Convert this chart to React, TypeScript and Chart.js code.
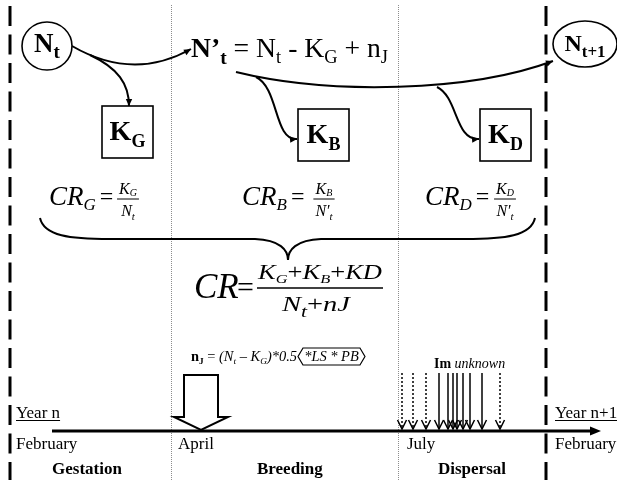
import React, { useEffect, useRef } from "react";
import { Chart, registerables } from "chart.js";

Chart.register(...registerables);

const SERIF = '"Liberation Serif", "Times New Roman", serif';

// ---------- diagram content (diagram units: x 0..617, y 0..480 from top) ----------
const boundaryX = [10, 171, 398, 546];
const boundaryKind = ["dashed", "dotted", "dotted", "dashed"];
const monthLabels = ["February", "April", "July", "February"];
const monthLabelX = [16, 178, 407, 555];
const seasonLabels = ["Gestation", "Breeding", "Dispersal"];
const seasonLabelX = [52, 257, 438];
const yearLabels = ["Year n", "Year n+1"];
const yearLabelX = [16, 555];
const lossSubscripts = ["G", "B", "D"];
const lossBoxX = [102, 298, 480];
const lossBoxY = [106, 109, 109];
const rateLabelX = [49, 242, 425];
const rateFracX = [128, 324, 505];
const rateDenomPrime = [false, true, true];
const immigrantX = [402, 413, 426, 439, 448, 453, 457, 463, 470, 482, 500];
const immigrantDotted = [true, true, true, false, false, false, false, false, false, false, true];

type Seg = { t: string; s: number; f?: string; dy?: number };

function fnt(sg: Seg) {
  const f = sg.f || "";
  return `${f.includes("i") ? "italic " : ""}${f.includes("b") ? "bold " : ""}${sg.s}px ${SERIF}`;
}

function richWidth(ctx: CanvasRenderingContext2D, segs: Seg[]) {
  let total = 0;
  segs.forEach((sg) => {
    ctx.font = fnt(sg);
    total += ctx.measureText(sg.t).width;
  });
  return total;
}

function drawRich(
  ctx: CanvasRenderingContext2D,
  segs: Seg[],
  x: number,
  y: number,
  align: "left" | "center" | "right" = "left",
  target = 0
) {
  const natural = richWidth(ctx, segs);
  const sx = target > 0 ? target / natural : 1;
  const total = natural * sx;
  const start = align === "center" ? x - total / 2 : align === "right" ? x - total : x;
  ctx.save();
  ctx.translate(start, y);
  ctx.scale(sx, 1);
  ctx.textAlign = "left";
  ctx.textBaseline = "alphabetic";
  ctx.fillStyle = "#000";
  let cx = 0;
  segs.forEach((sg) => {
    ctx.font = fnt(sg);
    ctx.fillText(sg.t, cx, sg.dy || 0);
    cx += ctx.measureText(sg.t).width;
  });
  ctx.restore();
  return total;
}

function arrowHead(ctx: CanvasRenderingContext2D, tx: number, ty: number, ang: number, len = 7, half = 3.2) {
  ctx.save();
  ctx.setLineDash([]);
  ctx.beginPath();
  ctx.moveTo(tx, ty);
  ctx.lineTo(tx - len * Math.cos(ang) + half * Math.sin(ang), ty - len * Math.sin(ang) - half * Math.cos(ang));
  ctx.lineTo(tx - len * Math.cos(ang) - half * Math.sin(ang), ty - len * Math.sin(ang) + half * Math.cos(ang));
  ctx.closePath();
  ctx.fillStyle = "#000";
  ctx.fill();
  ctx.restore();
}

const diagramPlugin = {
  id: "diagram",
  beforeDraw(chart: any) {
    const ctx = chart.ctx as CanvasRenderingContext2D;
    ctx.save();
    ctx.fillStyle = "#fff";
    ctx.fillRect(0, 0, chart.width, chart.height);
    ctx.restore();
  },
  afterDraw(chart: any) {
    const ctx = chart.ctx as CanvasRenderingContext2D;
    const xs = chart.scales.x;
    const ys = chart.scales.y;
    const X = (v: number) => xs.getPixelForValue(v);
    const Y = (v: number) => ys.getPixelForValue(v);
    ctx.save();
    ctx.strokeStyle = "#000";
    ctx.fillStyle = "#000";
    ctx.lineCap = "butt";

    // season boundaries
    boundaryX.forEach((bx, i) => {
      ctx.beginPath();
      if (boundaryKind[i] === "dashed") {
        ctx.lineWidth = 3;
        ctx.strokeStyle = "#000";
        ctx.setLineDash([20, 8.5]);
        ctx.moveTo(X(bx), Y(6));
        ctx.lineTo(X(bx), Y(480));
      } else {
        ctx.lineWidth = 1;
        ctx.strokeStyle = "#8c8c8c";
        ctx.setLineDash([1, 1]);
        ctx.moveTo(X(bx) + 0.5, Y(5));
        ctx.lineTo(X(bx) + 0.5, Y(480));
      }
      ctx.stroke();
    });
    ctx.setLineDash([]);
    ctx.strokeStyle = "#000";

    // population nodes
    ctx.lineWidth = 1.6;
    ctx.beginPath();
    ctx.ellipse(X(47), Y(46), 25, 24, 0, 0, Math.PI * 2);
    ctx.fillStyle = "#fff";
    ctx.fill();
    ctx.stroke();
    drawRich(ctx, [{ t: "N", s: 27, f: "b" }, { t: "t", s: 19, f: "b", dy: 6 }], X(47), Y(52), "center");

    ctx.beginPath();
    ctx.ellipse(X(585), Y(44), 32, 23, 0, 0, Math.PI * 2);
    ctx.fillStyle = "#fff";
    ctx.fill();
    ctx.stroke();
    drawRich(ctx, [{ t: "N", s: 24, f: "b" }, { t: "t+1", s: 17, f: "b", dy: 6 }], X(585), Y(51), "center");

    // N't formula
    drawRich(
      ctx,
      [
        { t: "N\u2019", s: 27, f: "b" },
        { t: "t", s: 19, f: "b", dy: 7 },
        { t: " = N", s: 27 },
        { t: "t", s: 18, dy: 6 },
        { t: " - K", s: 27 },
        { t: "G", s: 18, dy: 6 },
        { t: " + n", s: 27 },
        { t: "J", s: 18, dy: 6 },
      ],
      X(191),
      Y(57),
      "left",
      197
    );

    // flow curves
    ctx.lineWidth = 2;
    const bez = (p: number[], head = true) => {
      ctx.beginPath();
      ctx.moveTo(X(p[0]), Y(p[1]));
      ctx.bezierCurveTo(X(p[2]), Y(p[3]), X(p[4]), Y(p[5]), X(p[6]), Y(p[7]));
      ctx.stroke();
      if (head) {
        const ang = Math.atan2(Y(p[7]) - Y(p[5]), X(p[6]) - X(p[4]));
        arrowHead(ctx, X(p[6]), Y(p[7]), ang);
      }
    };
    bez([72, 46, 110, 68, 150, 72, 191, 49]);
    bez([90, 55, 118, 68, 129, 84, 129, 106]);
    bez([236, 72, 330, 95, 470, 92, 553, 61]);
    bez([256, 77, 279, 88, 274, 141, 297, 139]);
    bez([437, 87, 458, 97, 455, 141, 479, 139]);

    // loss boxes
    lossBoxX.forEach((bx, i) => {
      ctx.lineWidth = 1.6;
      ctx.strokeRect(X(bx), Y(lossBoxY[i]), 51, 52);
      drawRich(
        ctx,
        [{ t: "K", s: 28, f: "b" }, { t: lossSubscripts[i], s: 18, f: "b", dy: 7 }],
        X(bx + 25.5),
        Y(lossBoxY[i] + 34),
        "center"
      );
    });

    // partial capture rates
    lossSubscripts.forEach((sub, i) => {
      const lw = drawRich(ctx, [{ t: "CR", s: 27, f: "i" }, { t: sub, s: 17, f: "i", dy: 5 }], X(rateLabelX[i]), Y(205));
      drawRich(ctx, [{ t: "=", s: 24 }], X(rateLabelX[i]) + lw + 4, Y(204));
      const num: Seg[] = [{ t: "K", s: 16, f: "i" }, { t: sub, s: 10, f: "i", dy: 2 }];
      const den: Seg[] = [{ t: rateDenomPrime[i] ? "N\u2032" : "N", s: 16, f: "i" }, { t: "t", s: 11, f: "i", dy: 4 }];
      const w = Math.max(richWidth(ctx, num), richWidth(ctx, den)) + 4;
      const cx = X(rateFracX[i]);
      drawRich(ctx, num, cx, Y(194), "center");
      drawRich(ctx, den, cx, Y(216), "center");
      ctx.lineWidth = 1;
      ctx.beginPath();
      ctx.moveTo(cx - w / 2, Y(199));
      ctx.lineTo(cx + w / 2, Y(199));
      ctx.stroke();
    });

    // brace
    ctx.lineWidth = 2;
    ctx.beginPath();
    ctx.moveTo(X(40), Y(218));
    ctx.bezierCurveTo(X(44), Y(236), X(70), Y(239), X(110), Y(239));
    ctx.lineTo(X(255), Y(239));
    ctx.bezierCurveTo(X(280), Y(240), X(288), Y(250), X(288), Y(260));
    ctx.bezierCurveTo(X(288), Y(250), X(296), Y(240), X(321), Y(239));
    ctx.lineTo(X(465), Y(239));
    ctx.bezierCurveTo(X(505), Y(239), X(531), Y(236), X(535), Y(218));
    ctx.stroke();

    // overall capture rate
    drawRich(ctx, [{ t: "CR", s: 35, f: "i" }], X(194), Y(298));
    drawRich(ctx, [{ t: "=", s: 30 }], X(237), Y(297));
    drawRich(
      ctx,
      [
        { t: "K", s: 21, f: "i" },
        { t: "G", s: 13, f: "i", dy: 4 },
        { t: "+", s: 21 },
        { t: "K", s: 21, f: "i" },
        { t: "B", s: 13, f: "i", dy: 4 },
        { t: "+", s: 21 },
        { t: "KD", s: 21, f: "i" },
      ],
      X(320),
      Y(279),
      "center",
      124
    );
    ctx.lineWidth = 1.5;
    ctx.beginPath();
    ctx.moveTo(X(257), Y(288));
    ctx.lineTo(X(383), Y(288));
    ctx.stroke();
    drawRich(
      ctx,
      [
        { t: "N", s: 21, f: "i" },
        { t: "t", s: 16, f: "i", dy: 6 },
        { t: "+", s: 21 },
        { t: "nJ", s: 21, f: "i" },
      ],
      X(316),
      Y(311),
      "center",
      68
    );

    // juvenile production formula
    const jSegs: Seg[] = [
      { t: "n", s: 14, f: "b" },
      { t: "J", s: 9, f: "b", dy: 3 },
      { t: " = ", s: 14 },
      { t: "(N", s: 14, f: "i" },
      { t: "t", s: 9, f: "i", dy: 3 },
      { t: " \u2013 K", s: 14, f: "i" },
      { t: "G", s: 9, f: "i", dy: 3 },
      { t: ")*0.5", s: 14, f: "i" },
    ];
    const boxSegs: Seg[] = [{ t: "*LS * PB", s: 14, f: "i" }];
    const jNat = richWidth(ctx, jSegs);
    const bNat = richWidth(ctx, boxSegs) + 12;
    const jScale = (365 - 191) / (jNat + 1 + bNat);
    const jw = drawRich(ctx, jSegs, X(191), Y(361), "left", jNat * jScale);
    const bx0 = X(191) + jw + 1;
    const bw = bNat * jScale;
    drawRich(ctx, boxSegs, bx0 + 6 * jScale, Y(361), "left", (bNat - 12) * jScale);
    ctx.lineWidth = 1.2;
    ctx.beginPath();
    const yt = Y(348);
    const yb = Y(365);
    const ym = (yt + yb) / 2;
    ctx.moveTo(bx0, ym);
    ctx.lineTo(bx0 + 5, yt);
    ctx.lineTo(bx0 + bw - 5, yt);
    ctx.lineTo(bx0 + bw, ym);
    ctx.lineTo(bx0 + bw - 5, yb);
    ctx.lineTo(bx0 + 5, yb);
    ctx.closePath();
    ctx.stroke();

    // juvenile arrow (hollow)
    ctx.lineWidth = 2;
    ctx.beginPath();
    ctx.moveTo(X(184), Y(375));
    ctx.lineTo(X(218), Y(375));
    ctx.lineTo(X(218), Y(417));
    ctx.lineTo(X(228), Y(417));
    ctx.lineTo(X(201), Y(430));
    ctx.lineTo(X(174), Y(417));
    ctx.lineTo(X(184), Y(417));
    ctx.closePath();
    ctx.fillStyle = "#fff";
    ctx.fill();
    ctx.stroke();

    // immigrants
    drawRich(ctx, [{ t: "Im ", s: 14, f: "b" }, { t: "unknown", s: 14, f: "i" }], X(434), Y(368));
    immigrantX.forEach((ix, i) => {
      ctx.lineWidth = 1.5;
      ctx.setLineDash(immigrantDotted[i] ? [2, 2] : []);
      ctx.beginPath();
      ctx.moveTo(X(ix), Y(373));
      ctx.lineTo(X(ix), Y(429));
      ctx.stroke();
      ctx.setLineDash([]);
      ctx.lineWidth = 1.5;
      ctx.beginPath();
      ctx.moveTo(X(ix) - 4.5, Y(420));
      ctx.lineTo(X(ix), Y(429));
      ctx.lineTo(X(ix) + 4.5, Y(420));
      ctx.stroke();
    });

    // timeline
    ctx.lineWidth = 3;
    ctx.beginPath();
    ctx.moveTo(X(52), Y(431));
    ctx.lineTo(X(592), Y(431));
    ctx.stroke();
    arrowHead(ctx, X(601), Y(431), 0, 11, 4.5);

    // labels
    yearLabels.forEach((lbl, i) => {
      const w = drawRich(ctx, [{ t: lbl, s: 17 }], X(yearLabelX[i]), Y(418));
      ctx.lineWidth = 1;
      ctx.beginPath();
      ctx.moveTo(X(yearLabelX[i]), Y(420.5));
      ctx.lineTo(X(yearLabelX[i]) + w, Y(420.5));
      ctx.stroke();
    });
    monthLabels.forEach((lbl, i) => {
      drawRich(ctx, [{ t: lbl, s: 17 }], X(monthLabelX[i]), Y(449));
    });
    seasonLabels.forEach((lbl, i) => {
      drawRich(ctx, [{ t: lbl, s: 17, f: "b" }], X(seasonLabelX[i]), Y(474));
    });

    ctx.restore();
  },
};

export default function App() {
  const ref = useRef<HTMLCanvasElement | null>(null);
  useEffect(() => {
    if (!ref.current) return;
    const chart = new Chart(ref.current, {
      type: "scatter",
      data: {
        datasets: [
          {
            data: immigrantX.map((x) => ({ x, y: 431 })),
            pointRadius: 0,
            showLine: false,
          },
        ],
      },
      options: {
        animation: false,
        responsive: false,
        maintainAspectRatio: false,
        events: [],
        layout: { padding: 0 },
        plugins: { legend: { display: false }, tooltip: { enabled: false }, title: { display: false } },
        scales: {
          x: { type: "linear", min: 0, max: 617, display: false },
          y: { type: "linear", min: 0, max: 480, reverse: true, display: false },
        },
      },
      plugins: [diagramPlugin],
    } as any);
    return () => chart.destroy();
  }, []);
  return (
    <div style={{ position: "absolute", left: 0, top: 0, width: 617, height: 480, background: "#fff" }}>
      <canvas ref={ref} width={617} height={480} style={{ display: "block", width: 617, height: 480 }} />
    </div>
  );
}
